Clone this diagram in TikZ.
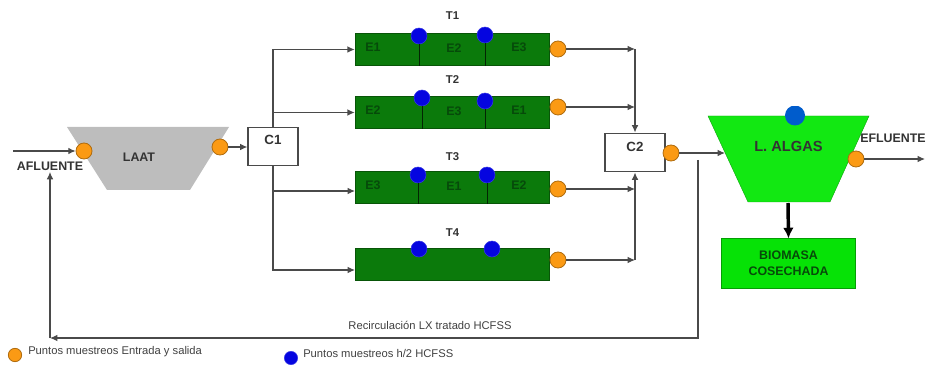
\documentclass[tikz,border=0pt]{standalone}
\usepackage{fontspec}
\setmainfont{Liberation Sans}
\usepackage{tikz}
\usetikzlibrary{arrows.meta,positioning,calc}
\definecolor{tankgreen}{HTML}{0B7A0B}
\definecolor{tanktext}{HTML}{064A0A}
\definecolor{algagreen}{HTML}{12E812}
\definecolor{cosgreen}{HTML}{06E206}
\definecolor{laatgrey}{HTML}{BDBDBD}
\definecolor{ptorange}{HTML}{FB9A14}
\definecolor{ptblue}{HTML}{0505E0}
\definecolor{linegrey}{HTML}{4A4A4A}
\tikzset{
    conn/.style={draw=linegrey, line width=0.9pt},
    ptorg/.style={circle, fill=ptorange, draw=ptorange!70!black, line width=0.6pt, minimum size=12pt, inner sep=0pt},
    ptblu/.style={circle, fill=ptblue, draw=ptblue!80!white, line width=0.4pt, minimum size=12pt, inner sep=0pt},
    tank/.style={draw=tankgreen!70!black, fill=tankgreen, line width=0.6pt, minimum width=146pt, minimum height=24pt, inner sep=0pt},
    cbox/.style={draw=linegrey, fill=white, line width=0.9pt, inner sep=0pt},
    lbl/.style={font=\bfseries\fontsize{9.3}{11}\selectfont, text=black!80, inner sep=1pt},
    tlbl/.style={font=\bfseries\fontsize{8.5}{10}\selectfont, text=black!80, inner sep=1pt},
    elbl/.style={font=\bfseries\fontsize{9.3}{11}\selectfont, text=tanktext, inner sep=0pt},
    note/.style={font=\fontsize{8.4}{10}\selectfont, text=black!75, inner sep=0pt}
}
\begin{document}
\begin{tikzpicture}[x=0.75pt, y=-0.75pt, >={Latex[length=5.5pt,width=5pt]}]
    \useasboundingbox (0,0) rectangle (928,367);
    % lagoons
    \fill[laatgrey] (67,127) -- (229,127) -- (190,190) -- (107,190) -- cycle;
    \fill[algagreen, draw=algagreen!70!black, line width=0.3pt] (708,116) -- (869,116) -- (830,202) -- (748,202) -- cycle;
    \begin{scope}
        \clip (770,107) rectangle (820,130);
        \node[circle, fill=blue!55!cyan!80!black, minimum size=15pt, inner sep=0pt] (balgas) at (795,115.5) {};
    \end{scope}
    \node[lbl] (laat) at (139,157) {LAAT};
    \node[lbl, font=\bfseries\fontsize{11}{13}\selectfont] (lalgas) at (788.5,146) {L. ALGAS};
    \node[lbl] (aflu) at (50,166) {AFLUENTE};
    \node[lbl] (eflu) at (893,138) {EFLUENTE};
    % boxes
    \node[cbox, minimum width=37.5pt, minimum height=28pt] (c1) at (273,146.5) {};
    \node[lbl, font=\bfseries\fontsize{10}{12}\selectfont] at (c1) [yshift=5pt] (c1txt) {C1};
    \node[cbox, minimum width=45pt, minimum height=29pt] (c2) at (635,152.5) {};
    \node[lbl, font=\bfseries\fontsize{10}{12}\selectfont] at (c2) [yshift=4pt] (c2txt) {C2};
    \node[draw=cosgreen!70!black, fill=cosgreen, line width=0.6pt, minimum width=101pt, minimum height=37pt, align=center,
        font=\bfseries\fontsize{9.3}{12}\selectfont, text=tanktext] (bio) at (788.5,263.5) {BIOMASA\\COSECHADA};
    % tanks
    \foreach \n/\y/\yt/\xa/\ya/\xb/\yb/\yo/\ea/\eb/\ec in {
        1/49.5/16/419/36/485/35/49/E1/E2/E3,
        2/112.5/80/422/98/485/101/107/E2/E3/E1,
        3/187.5/157/418/175/487/175/189/E3/E1/E2,
        4/264/233/419/249/492/249/260//}
    {
        \node[tank] (t\n) at (452.5,\y) {};
        \node[tlbl] (tt\n) at (452.5,\yt) {T\n};
        \node[ptblu] (b\n a) at (\xa,\ya) {};
        \node[ptblu] (b\n b) at (\xb,\yb) {};
        \node[ptorg] (o\n) at (558,\yo) {};
        \node[elbl] (e\n a) at (373,\y-2) {\ea};
        \node[elbl] (e\n b) at (454,\y-1) {\eb};
        \node[elbl] (e\n c) at (519,\y-2) {\ec};
    }
    \foreach \n in {1,2,3}
        \foreach \s in {a,b}
            \draw[draw=black!70!tankgreen, line width=0.5pt] (b\n\s) -- (b\n\s |- t\n.south);
    % sampling points
    \node[ptorg] (oin) at (84,151) {};
    \node[ptorg] (oout) at (220,147) {};
    \node[ptorg] (oc2) at (671,153) {};
    \node[ptorg] (oef) at (856,159) {};
    \node[ptorg, minimum size=10pt] (leg1) at (15,355) {};
    \node[ptblu, minimum size=10pt] (leg2) at (291,358) {};
    \node[note, anchor=west] (legt1) at (28,352) {Puntos muestreos Entrada y salida};
    \node[note, anchor=west] (legt2) at (303,353) {Puntos muestreos h/2 HCFSS};
    \node[note] (rectxt) at (430,325) {Recirculación LX tratado HCFSS};
    % free ends
    \coordinate (ain) at (13,151);
    \coordinate (i3) at (355,191);
    \coordinate (i4) at (355,270);
    \coordinate (algin) at (725,153);
    \coordinate (efout) at (925,159);
    \coordinate (rc1) at (698,160);
    \coordinate (rc2) at (50,338);
    % connectors
    \draw[conn,->] (ain) -- (oin);
    \draw[conn,->] (oout) -- (oout -| c1.west);
    \draw[conn,->] (c1.north) |- (t1.west);
    \draw[conn,->] (c1.north |- t2.west) -- (t2.west);
    \draw[conn,->] (c1.south) |- (i3);
    \draw[conn,->] (c1.south) |- (i4);
    \foreach \n in {1,2}
        \draw[conn,->] (o\n) -- (o\n -| c2.north);
    \draw[conn,->] (o1 -| c2.north) -- (c2.north);
    \foreach \n in {3,4}
        \draw[conn,->] (o\n) -- (o\n -| c2.south);
    \draw[conn,->] (o4 -| c2.south) -- (c2.south);
    \draw[conn,->] (oc2) -- (algin);
    \draw[conn,->] (oef) -- (efout);
    \draw[black, line width=2.6pt, -{Latex[length=8pt,width=8pt]}] (788,203) -- (bio.north);
    \draw[conn,->] (rc1) |- (rc2);
    \draw[conn,->] (rc2) -- (aflu.south);
\end{tikzpicture}
\end{document}
